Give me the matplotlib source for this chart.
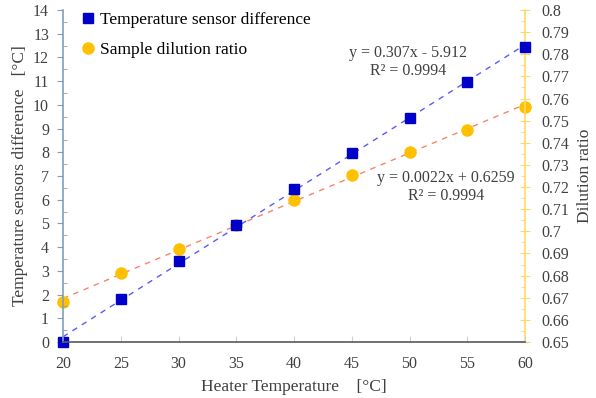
import numpy as np
import matplotlib
matplotlib.use("Agg")
from matplotlib import pyplot as plt
from matplotlib.ticker import MultipleLocator

plt.rcParams["font.family"] = ["Liberation Serif", "DejaVu Serif"]
plt.rcParams["font.size"] = 11.5

heater_temp = [20, 25, 30, 35, 40, 45, 50, 55, 60]
sensor_diff = [0.0, 1.8, 3.4, 4.95, 6.45, 7.95, 9.45, 10.95, 12.45]
dilution = [0.668, 0.681, 0.692, 0.703, 0.714, 0.7255, 0.736, 0.746, 0.756]

blue = "#0000c8"
gold = "#ffc000"
dark = "#404040"

fig = plt.figure(figsize=(5.96, 3.98), dpi=100)
ax = fig.add_axes([63 / 596, 1 - 342 / 398, (525 - 63) / 596, (342 - 10) / 398])
ax2 = ax.twinx()
ax.set_zorder(2)
ax.patch.set_visible(False)

# trendlines from a linear fit of the data
x = np.array(heater_temp, dtype=float)
c1 = np.polyfit(x, sensor_diff, 1)
c2 = np.polyfit(x, dilution, 1)
ax2.plot(x, np.polyval(c2, x), ls=(0, (4, 4)), color="#f4866a", lw=1)
ax2.plot(x, dilution, "o", color=gold, ms=8, label="Sample dilution ratio", clip_on=False)
ax.plot(x, np.polyval(c1, x), ls=(0, (4, 4)), color="#5a5aff", lw=1)
ax.plot(x, sensor_diff, "s", color=blue, ms=7, label="Temperature sensor difference", clip_on=False)

ax.set_xlim(20, 60)
ax.set_ylim(0, 14)
ax2.set_ylim(0.65, 0.8)
ax.xaxis.set_major_locator(MultipleLocator(5))
ax.yaxis.set_major_locator(MultipleLocator(1))
ax.yaxis.set_minor_locator(MultipleLocator(0.5))
ax2.yaxis.set_major_locator(MultipleLocator(0.01))
ax2.yaxis.set_minor_locator(MultipleLocator(0.005))
ax2.yaxis.set_major_formatter(lambda v, p: f"{v:.2f}".rstrip("0").rstrip("."))

for a in (ax, ax2):
    a.spines["top"].set_visible(False)
ax.spines["right"].set_visible(False)
ax2.spines["left"].set_visible(False)
ax2.spines["bottom"].set_visible(False)
ax.spines["left"].set_color("#7f9fbf")
ax2.spines["right"].set_color("#ffd966")
ax.spines["bottom"].set_color("#595959")
ax.spines["left"].set_linewidth(1.2)
ax2.spines["right"].set_linewidth(1.2)
ax.spines["bottom"].set_linewidth(1.2)

ax.tick_params(axis="x", direction="in", length=4, color="#d0d0d0", labelcolor=dark, pad=10)
ax.tick_params(axis="y", which="major", direction="out", length=4, color="#7f9fbf", labelcolor=dark, pad=6)
ax.tick_params(axis="y", which="minor", direction="in", length=3, color="#7f9fbf")
ax2.tick_params(axis="y", which="major", direction="inout", length=7, color="#ffd966", labelcolor=dark, pad=8)
ax2.tick_params(axis="y", which="minor", direction="in", length=3, color="#ffd966")

ax.set_xlabel("Heater Temperature    [\u00b0C]", color=dark, fontsize=12.5, labelpad=5)
ax.set_ylabel("Temperature sensors difference   [\u00b0C]", color=dark, fontsize=12.5, labelpad=4)
ax2.set_ylabel("Dilution ratio", color=dark, fontsize=12.5, labelpad=6)

h1, l1 = ax.get_legend_handles_labels()
h2, l2 = ax2.get_legend_handles_labels()
ax.legend(h1 + h2, l1 + l2, loc="upper left", frameon=False, fontsize=12.5,
          handlelength=0.6, handletextpad=0.4, labelspacing=0.8,
          borderaxespad=0.2, bbox_to_anchor=(0.02, 1.025))

ax.text(408 / 596, 1 - 62 / 398, "y = 0.307x - 5.912\nR\u00b2 = 0.9994", transform=fig.transFigure,
        ha="center", va="center", color=dark, fontsize=11.5, linespacing=1.15)
ax.text(446 / 596, 1 - 187 / 398, "y = 0.0022x + 0.6259\nR\u00b2 = 0.9994", transform=fig.transFigure,
        ha="center", va="center", color=dark, fontsize=11.5, linespacing=1.15)

fig.savefig("out.png", dpi=100)
